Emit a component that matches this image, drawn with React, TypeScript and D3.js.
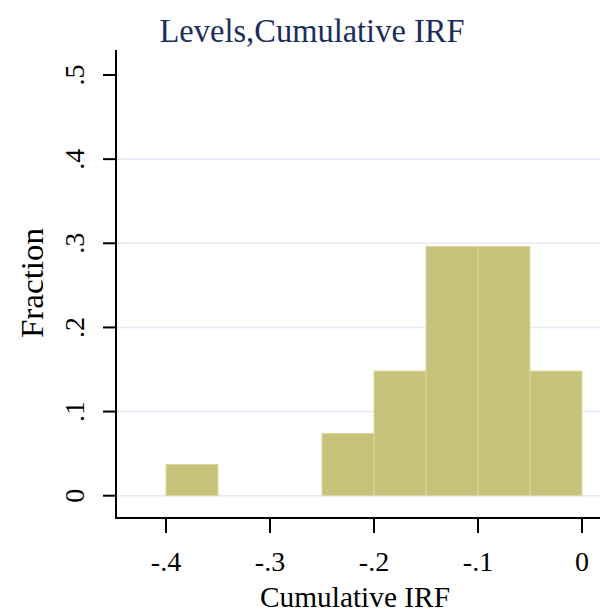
import React from "react";
import * as d3 from "d3";

const binStarts = [-0.4, -0.25, -0.2, -0.15, -0.1, -0.05];
const binWidth = 0.05;
const fractions = [1 / 27, 2 / 27, 4 / 27, 8 / 27, 8 / 27, 4 / 27];
const xTicks = [-0.4, -0.3, -0.2, -0.1, 0];
const xTickLabels = ["-.4", "-.3", "-.2", "-.1", "0"];
const yTicks = [0, 0.1, 0.2, 0.3, 0.4, 0.5];
const yTickLabels = ["0", ".1", ".2", ".3", ".4", ".5"];
const gridTicks = [0, 0.1, 0.2, 0.3, 0.4];

export default function App() {
  const W = 600, H = 615;
  const left = 116, right = 600, top = 50, bottom = 518;
  const x = d3.scaleLinear().domain([-0.4, 0]).range([166, 582]);
  const y = d3.scaleLinear().domain([0, 0.5]).range([495.7, 75]);
  const font = "'Liberation Serif', 'DejaVu Serif', serif";
  return (
    <svg width={W} height={H} style={{ position: "absolute", left: 0, top: 0, background: "#fff" }} fontFamily={font}>
      <rect x={0} y={0} width={W} height={H} fill="#fff" />
      {gridTicks.map((t) => (
        <line key={"g" + t} x1={left} x2={right} y1={y(t)} y2={y(t)} stroke="#e8e8f7" strokeWidth={1.5} />
      ))}
      {binStarts.map((b, i) => (
        <rect
          key={"b" + i}
          x={x(b)}
          y={y(fractions[i])}
          width={x(b + binWidth) - x(b)}
          height={y(0) - y(fractions[i])}
          fill="#c9c27b"
          stroke="#dcd8a2"
          strokeWidth={1}
        />
      ))}
      <line x1={left} x2={left} y1={top} y2={bottom + 1} stroke="#000" strokeWidth={2} />
      <line x1={left - 1} x2={right} y1={bottom} y2={bottom} stroke="#000" strokeWidth={2} />
      {yTicks.map((t, i) => (
        <g key={"y" + t}>
          <line x1={103} x2={left} y1={y(t)} y2={y(t)} stroke="#000" strokeWidth={2} />
          <text
            transform={`translate(84,${y(t)}) rotate(-90)`}
            textAnchor="middle"
            fontSize={28}
            fill="#000"
          >
            {yTickLabels[i]}
          </text>
        </g>
      ))}
      {xTicks.map((t, i) => (
        <g key={"x" + t}>
          <line x1={x(t)} x2={x(t)} y1={bottom} y2={533} stroke="#000" strokeWidth={2} />
          <text x={x(t)} y={571} textAnchor="middle" fontSize={28} fill="#000">
            {xTickLabels[i]}
          </text>
        </g>
      ))}
      <text x={355} y={607} textAnchor="middle" fontSize={29} fill="#000" textLength={190} lengthAdjust="spacingAndGlyphs">
        Cumulative IRF
      </text>
      <text transform="translate(43,283) rotate(-90)" textAnchor="middle" fontSize={32} fill="#000" textLength={110} lengthAdjust="spacingAndGlyphs">
        Fraction
      </text>
      <text x={312} y={42} textAnchor="middle" fontSize={34} fill="#1b2d5c" textLength={305} lengthAdjust="spacingAndGlyphs">
        Levels,Cumulative IRF
      </text>
    </svg>
  );
}
